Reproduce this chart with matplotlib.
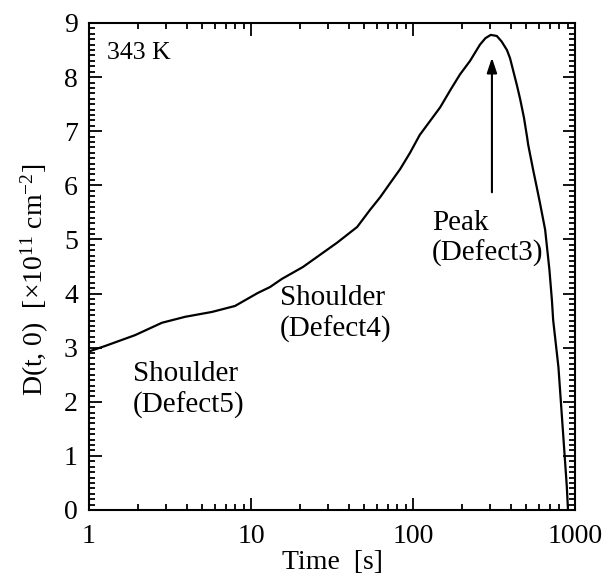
import matplotlib
matplotlib.use("Agg")
import matplotlib.pyplot as plt
from matplotlib.ticker import FixedLocator, MultipleLocator, LogLocator, NullFormatter

plt.rcParams['font.family'] = ['Liberation Serif', 'DejaVu Serif']
plt.rcParams['mathtext.fontset'] = 'custom'
plt.rcParams['mathtext.rm'] = 'Liberation Serif'
plt.rcParams['mathtext.it'] = 'Liberation Serif:italic'

# Data
time_s = [1.0, 1.255, 1.92, 2.82, 3.92, 5.74, 7.96, 11.0, 13.1, 15.5, 20.9, 34.0,
          45.2, 54.4, 62.7, 72.2, 83.3, 95.8, 110, 147, 170, 195, 225, 259, 280,
          302, 329, 352, 380, 397, 437, 458, 484, 506, 514, 552, 580, 608, 654,
          695, 720, 733, 790, 844, 890, 905]
density = [2.93, 3.03, 3.23, 3.46, 3.57, 3.66, 3.77, 4.01, 4.12, 4.27, 4.49, 4.94,
           5.23, 5.55, 5.78, 6.04, 6.30, 6.60, 6.93, 7.44, 7.76, 8.05, 8.30, 8.60, 8.72,
           8.78, 8.76, 8.66, 8.50, 8.35, 7.86, 7.60, 7.25, 6.89, 6.75, 6.28, 5.97, 5.67, 5.18,
           4.44, 3.88, 3.51, 2.64, 1.42, 0.43, 0.0]

x_ticks = [1, 10, 100, 1000]
x_tick_labels = ['1', '10', '100', '1000']
y_ticks = [0, 1, 2, 3, 4, 5, 6, 7, 8, 9]

annotations = [
    ("343 K", 1.29, 8.45, 18.5),
    ("Shoulder\n(Defect5)", 1.87, 2.22, 21),
    ("Shoulder\n(Defect4)", 15.1, 3.62, 21),
    ("Peak\n(Defect3)", 131, 5.02, 21),
]
arrow_x = 307
arrow_from = 5.82
arrow_to = 8.41

fig = plt.figure(figsize=(6.11, 5.79), dpi=100)
ax = fig.add_axes([0.1457, 0.1192, 0.7954, 0.8411])

ax.plot(time_s, density, color='black', lw=1.6)
ax.set_xscale('log')
ax.set_xlim(1, 1000)
ax.set_ylim(0, 9)

ax.xaxis.set_major_locator(FixedLocator(x_ticks))
ax.set_xticklabels(x_tick_labels)
ax.xaxis.set_minor_locator(LogLocator(base=10, subs=range(2, 10)))
ax.xaxis.set_minor_formatter(NullFormatter())
ax.yaxis.set_major_locator(FixedLocator(y_ticks))
ax.yaxis.set_minor_locator(MultipleLocator(0.1))

ax.tick_params(which='both', direction='in', top=True, right=True, width=1.3)
ax.tick_params(which='major', length=9, labelsize=20, pad=8)
ax.tick_params(which='minor', length=4.5)
ax.tick_params(axis='x', which='major', pad=10)
for s in ax.spines.values():
    s.set_linewidth(1.5)

ax.set_xlabel('Time  [s]', fontsize=20, labelpad=1)
ax.set_ylabel('D(t, 0)  [\u00d710$^{\\mathregular{11}}$ cm$^{\\mathregular{-2}}$]',
              fontsize=20)
ax.yaxis.set_label_coords(-0.078, 0.473)

for txt, x, y, fs in annotations:
    ax.text(x, y, txt, fontsize=fs, ha='left', va='center', linespacing=1.2)

ax.annotate('', xy=(arrow_x, arrow_to), xytext=(arrow_x, arrow_from),
            arrowprops=dict(arrowstyle='-|>,head_length=0.9,head_width=0.3',
                            color='black', lw=1.5))

fig.savefig('out.png', dpi=100)
